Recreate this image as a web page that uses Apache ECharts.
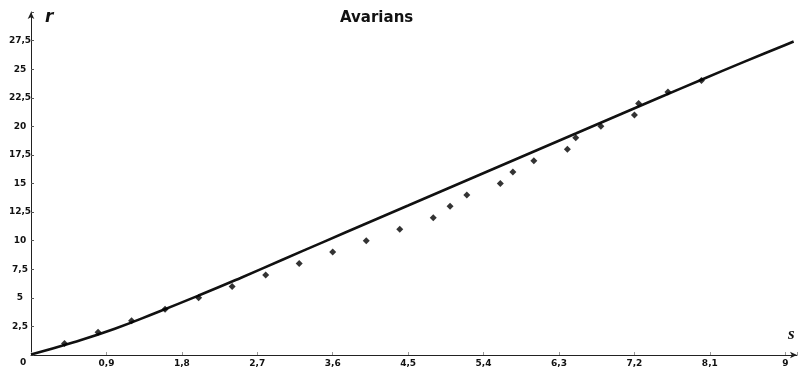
<!DOCTYPE html>
<html>
<head>
<meta charset="utf-8">
<script src="https://cdn.jsdelivr.net/npm/echarts@6/dist/echarts.min.js"></script>
<style>
  html, body { margin: 0; padding: 0; background: #fff; }
  #chart { width: 801px; height: 372px; }
</style>
</head>
<body>
<div id="chart"></div>
<script>
// Measured points (s, r)
const sValues = [0.4, 0.8, 1.2, 1.6, 2.0, 2.4, 2.8, 3.2, 3.6, 4.0, 4.4, 4.8, 5.0, 5.2, 5.6, 5.75, 6.0, 6.4, 6.5, 6.8, 7.2, 7.25, 7.6, 8.0];
const rValues = [1, 2, 3, 4, 5, 6, 7, 8, 9, 10, 11, 12, 13, 14, 15, 16, 17, 18, 19, 20, 21, 22, 23, 24];

// Model curve r(s)
const curveS = [0, 0.5, 1, 1.5, 2, 2.5, 3, 3.5, 4, 4.5, 5, 5.5, 6, 6.5, 7, 7.5, 8, 8.5, 9, 9.1];
const curveR = [0.05, 1.1, 2.3, 3.72, 5.2, 6.74, 8.33, 9.92, 11.5, 13.07, 14.65, 16.22, 17.8, 19.37, 20.95, 22.52, 24.08, 25.62, 27.12, 27.42];

const titleText = 'Avarians';
const xName = 's';
const yName = 'r';

function fmt(v) {
  return parseFloat(v.toFixed(2)).toString().replace('.', ',');
}
function isOnStep(v, step) {
  const k = v / step;
  return Math.abs(k - Math.round(k)) < 1e-6;
}

const chart = echarts.init(document.getElementById('chart'), null, { renderer: 'canvas' });
const labelFont = { fontFamily: 'DejaVu Sans', fontWeight: 'bold', fontSize: 9, color: '#111' };

chart.setOption({
  animation: false,
  backgroundColor: '#fff',
  title: {
    text: titleText,
    left: 335, top: 6,
    textStyle: { fontFamily: 'DejaVu Sans', fontWeight: 'bold', fontSize: 15, color: '#111' }
  },
  grid: { left: 31, right: 4, top: 12, bottom: 17, containLabel: false },
  xAxis: {
    type: 'value', min: 0, max: 9.14, interval: 0.9,
    splitLine: { show: false },
    axisLine: { lineStyle: { color: '#222', width: 1 }, symbol: ['none', 'arrow'], symbolSize: [5, 7] },
    axisTick: { inside: true, length: 3, lineStyle: { color: '#999' } },
    axisLabel: Object.assign({
      margin: 4,
      formatter: v => (v > 0 && isOnStep(v, 0.9)) ? fmt(v) : ''
    }, labelFont)
  },
  yAxis: {
    type: 'value', min: 0, max: 30, interval: 2.5,
    splitLine: { show: false },
    axisLine: { lineStyle: { color: '#222', width: 1 }, symbol: ['none', 'arrow'], symbolSize: [5, 7] },
    axisTick: { inside: true, length: 3, lineStyle: { color: '#555' } },
    axisLabel: Object.assign({
      margin: 11, align: 'center',
      formatter: v => (v > 0 && v < 29) ? fmt(v) : ''
    }, labelFont)
  },
  graphic: [
    { type: 'text', left: 20, top: 358, style: { text: '0', font: 'bold 9px "DejaVu Sans"', fill: '#111' } },
    { type: 'text', left: 45, top: 9, style: { text: yName, font: 'italic bold 17px "DejaVu Sans"', fill: '#111' } },
    { type: 'text', left: 788, top: 326, style: { text: xName, font: 'italic bold 17px "Liberation Serif"', fill: '#111' } }
  ],
  series: [
    {
      type: 'line',
      data: curveS.map((s, i) => [s, curveR[i]]),
      showSymbol: false,
      smooth: 0.5,
      lineStyle: { color: '#111', width: 2.6 },
      z: 2
    },
    {
      type: 'scatter',
      data: sValues.map((s, i) => [s, rValues[i]]),
      symbol: 'diamond',
      symbolSize: 7,
      itemStyle: { color: '#000' },
      z: 3
    }
  ]
});
</script>
</body>
</html>
